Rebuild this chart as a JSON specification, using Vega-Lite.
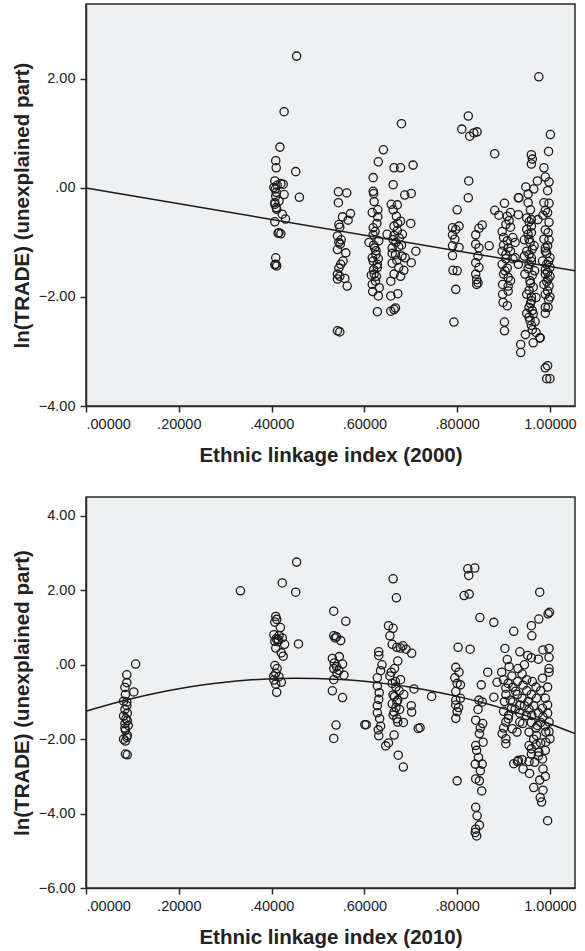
{
"$schema": "https://vega.github.io/schema/vega-lite/v6.json",
"padding": {"left": 11, "top": 3, "right": 5, "bottom": 5},
"spacing": 29,
"background": "white",
"config": {
 "font": "Liberation Sans",
 "view": {"fill": "#eff0f2", "stroke": "#2a2a2a", "strokeWidth": 1.5},
 "axis": {"grid": false, "domainColor": "#2a2a2a", "domainWidth": 1.5, "tickColor": "#2a2a2a", "tickWidth": 1.5, "tickSize": 6, "labelFont": "Liberation Sans", "labelFontSize": 14.5, "labelColor": "#222", "labelPadding": 5, "titleFont": "Liberation Sans", "titleFontSize": 20.5, "titleFontWeight": "bold", "titleColor": "#222"}
},
"datasets": {
"a": [
{"x":0.409,"y":0.50},{"x":0.41,"y":0.37},{"x":0.418,"y":0.75},{"x":0.427,"y":1.40},{"x":0.407,"y":0.13},{"x":0.42,"y":0.08},{"x":0.425,"y":0.07},{"x":0.405,"y":0.01},{"x":0.41,"y":-0.08},{"x":0.427,"y":-0.12},{"x":0.407,"y":-0.27},{"x":0.416,"y":-0.24},{"x":0.411,"y":-0.39},{"x":0.423,"y":-0.48},{"x":0.43,"y":-0.57},{"x":0.407,"y":-0.62},{"x":0.416,"y":-0.82},{"x":0.42,"y":-0.84},{"x":0.414,"y":-0.83},{"x":0.409,"y":-1.28},{"x":0.409,"y":-1.40},{"x":0.411,"y":-1.43},{"x":0.407,"y":-1.41},{"x":0.409,"y":-0.15},{"x":0.41,"y":-0.36},{"x":0.407,"y":-0.30},{"x":0.412,"y":0.05},{"x":0.408,"y":-0.02},
{"x":0.454,"y":2.42},{"x":0.452,"y":0.30},{"x":0.46,"y":-0.17},
{"x":0.544,"y":-0.07},{"x":0.562,"y":-0.09},{"x":0.544,"y":-0.27},{"x":0.57,"y":-0.47},{"x":0.553,"y":-0.53},{"x":0.565,"y":-0.59},{"x":0.545,"y":-0.67},{"x":0.542,"y":-0.88},{"x":0.545,"y":-1.0},{"x":0.548,"y":-1.03},{"x":0.542,"y":-1.13},{"x":0.56,"y":-1.19},{"x":0.554,"y":-1.34},{"x":0.549,"y":-1.4},{"x":0.545,"y":-1.47},{"x":0.542,"y":-1.58},{"x":0.547,"y":-1.62},{"x":0.542,"y":-1.67},{"x":0.558,"y":-1.66},{"x":0.563,"y":-1.8},{"x":0.542,"y":-2.62},{"x":0.547,"y":-2.64},{"x":0.547,"y":-0.72},{"x":0.55,"y":-0.95},
{"x":0.619,"y":0.19},{"x":0.63,"y":0.48},{"x":0.641,"y":0.70},{"x":0.619,"y":-0.06},{"x":0.62,"y":-0.10},{"x":0.621,"y":-0.25},{"x":0.629,"y":-0.40},{"x":0.617,"y":-0.45},{"x":0.629,"y":-0.53},{"x":0.619,"y":-0.73},{"x":0.61,"y":-1.0},{"x":0.619,"y":-0.86},{"x":0.631,"y":-0.97},{"x":0.622,"y":-1.10},{"x":0.625,"y":-1.22},{"x":0.619,"y":-1.34},{"x":0.628,"y":-1.46},{"x":0.621,"y":-1.58},{"x":0.624,"y":-1.71},{"x":0.617,"y":-1.77},{"x":0.632,"y":-1.83},{"x":0.63,"y":-1.98},{"x":0.628,"y":-2.27},{"x":0.62,"y":-1.05},{"x":0.625,"y":-1.15},{"x":0.617,"y":-1.28},{"x":0.628,"y":-1.40},{"x":0.62,"y":-1.50},{"x":0.626,"y":-1.62},{"x":0.618,"y":-1.90},{"x":0.63,"y":-1.30},{"x":0.623,"y":-0.80},{"x":0.627,"y":-0.65},{"x":0.615,"y":-1.60},
{"x":0.664,"y":0.37},{"x":0.678,"y":0.37},{"x":0.68,"y":1.18},{"x":0.662,"y":0.06},{"x":0.705,"y":0.42},{"x":0.701,"y":-0.10},{"x":0.687,"y":-0.13},{"x":0.658,"y":-0.30},{"x":0.671,"y":-0.31},{"x":0.662,"y":-0.40},{"x":0.669,"y":-0.52},{"x":0.678,"y":-0.61},{"x":0.70,"y":-0.65},{"x":0.649,"y":-0.85},{"x":0.664,"y":-0.87},{"x":0.671,"y":-0.78},{"x":0.682,"y":-0.85},{"x":0.66,"y":-1.10},{"x":0.674,"y":-1.08},{"x":0.667,"y":-1.22},{"x":0.681,"y":-1.25},{"x":0.688,"y":-1.28},{"x":0.711,"y":-1.16},{"x":0.701,"y":-1.37},{"x":0.66,"y":-1.38},{"x":0.674,"y":-1.46},{"x":0.685,"y":-1.51},{"x":0.664,"y":-1.58},{"x":0.678,"y":-1.62},{"x":0.657,"y":-1.71},{"x":0.672,"y":-1.94},{"x":0.657,"y":-1.98},{"x":0.664,"y":-2.23},{"x":0.657,"y":-2.26},{"x":0.667,"y":-2.20},{"x":0.662,"y":-0.95},{"x":0.668,"y":-1.00},{"x":0.675,"y":-0.92},{"x":0.66,"y":-1.20},{"x":0.67,"y":-1.33},{"x":0.664,"y":-0.70},{"x":0.672,"y":-0.65},{"x":0.68,"y":-1.05},
{"x":0.80,"y":-0.40},{"x":0.79,"y":-0.73},{"x":0.797,"y":-0.76},{"x":0.804,"y":-0.70},{"x":0.79,"y":-0.86},{"x":0.795,"y":-0.94},{"x":0.804,"y":-1.09},{"x":0.79,"y":-1.06},{"x":0.79,"y":-1.24},{"x":0.791,"y":-1.51},{"x":0.80,"y":-1.52},{"x":0.797,"y":-1.86},{"x":0.793,"y":-2.46},
{"x":0.824,"y":1.32},{"x":0.81,"y":1.08},{"x":0.827,"y":0.95},{"x":0.836,"y":1.01},{"x":0.843,"y":1.03},{"x":0.825,"y":0.13},{"x":0.824,"y":-0.18},{"x":0.854,"y":-0.68},{"x":0.847,"y":-0.74},{"x":0.84,"y":-0.86},{"x":0.84,"y":-1.03},{"x":0.847,"y":-1.10},{"x":0.845,"y":-1.25},{"x":0.84,"y":-1.37},{"x":0.847,"y":-1.46},{"x":0.84,"y":-1.58},{"x":0.842,"y":-1.68},{"x":0.842,"y":-1.77},{"x":0.845,"y":-1.74},{"x":0.869,"y":-1.06},{"x":0.881,"y":0.63},{"x":0.881,"y":-0.41},
{"x":0.902,"y":-0.28},{"x":0.89,"y":-0.50},{"x":0.908,"y":-0.52},{"x":0.932,"y":-0.18},{"x":0.932,"y":-0.49},{"x":0.905,"y":-0.67},{"x":0.915,"y":-0.72},{"x":0.90,"y":-0.91},{"x":0.908,"y":-0.97},{"x":0.92,"y":-0.91},{"x":0.897,"y":-1.16},{"x":0.905,"y":-1.22},{"x":0.915,"y":-1.16},{"x":0.925,"y":-1.28},{"x":0.897,"y":-1.40},{"x":0.908,"y":-1.47},{"x":0.90,"y":-1.58},{"x":0.91,"y":-1.64},{"x":0.898,"y":-1.77},{"x":0.91,"y":-1.89},{"x":0.899,"y":-2.10},{"x":0.908,"y":-2.16},{"x":0.902,"y":-2.46},{"x":0.902,"y":-2.62},{"x":0.915,"y":-1.70},{"x":0.932,"y":-1.40},{"x":0.90,"y":-1.05},{"x":0.905,"y":-1.30},{"x":0.91,"y":-1.10},{"x":0.897,"y":-0.80},{"x":0.912,"y":-0.60},{"x":0.903,"y":-1.52},{"x":0.91,"y":-1.80},{"x":0.898,"y":-1.95},{"x":0.92,"y":-1.30},{"x":0.925,"y":-1.0},{"x":0.915,"y":-0.45},
{"x":0.96,"y":0.61},{"x":0.962,"y":0.53},{"x":0.96,"y":0.44},{"x":0.948,"y":0.02},{"x":0.965,"y":-0.02},{"x":0.973,"y":0.13},{"x":0.953,"y":-0.11},{"x":0.953,"y":-0.27},{"x":0.958,"y":-0.40},{"x":0.95,"y":-0.55},{"x":0.96,"y":-0.58},{"x":0.974,"y":-0.58},{"x":0.95,"y":-0.76},{"x":0.96,"y":-0.82},{"x":0.955,"y":-0.94},{"x":0.966,"y":-1.06},{"x":0.95,"y":-1.16},{"x":0.96,"y":-1.28},{"x":0.955,"y":-1.40},{"x":0.967,"y":-1.52},{"x":0.946,"y":-1.58},{"x":0.957,"y":-1.70},{"x":0.964,"y":-1.82},{"x":0.95,"y":-1.95},{"x":0.96,"y":-2.07},{"x":0.97,"y":-2.01},{"x":0.955,"y":-2.19},{"x":0.964,"y":-2.31},{"x":0.957,"y":-2.43},{"x":0.96,"y":-2.52},{"x":0.97,"y":-2.65},{"x":0.964,"y":-2.84},{"x":0.937,"y":-2.87},{"x":0.937,"y":-3.02},{"x":0.947,"y":-2.69},{"x":0.933,"y":-0.18},{"x":0.976,"y":2.04},{"x":0.978,"y":-2.75},{"x":0.955,"y":-0.62},{"x":0.96,"y":-0.70},{"x":0.953,"y":-0.85},{"x":0.957,"y":-1.0},{"x":0.962,"y":-1.12},{"x":0.955,"y":-1.22},{"x":0.96,"y":-1.35},{"x":0.953,"y":-1.48},{"x":0.962,"y":-1.60},{"x":0.958,"y":-1.75},{"x":0.955,"y":-1.88},{"x":0.96,"y":-2.0},{"x":0.958,"y":-2.12},{"x":0.962,"y":-2.25},{"x":0.955,"y":-2.37},{"x":0.962,"y":-2.6},{"x":0.968,"y":-2.45},{"x":0.945,"y":-1.25},{"x":0.945,"y":-0.95},{"x":0.95,"y":-2.3},
{"x":1.001,"y":0.98},{"x":0.997,"y":0.67},{"x":0.987,"y":0.37},{"x":0.99,"y":0.20},{"x":0.998,"y":0.11},{"x":0.995,"y":-0.05},{"x":0.987,"y":-0.27},{"x":0.998,"y":-0.28},{"x":0.99,"y":-0.41},{"x":0.998,"y":-0.63},{"x":0.99,"y":-0.77},{"x":0.996,"y":-0.82},{"x":0.987,"y":-0.94},{"x":0.995,"y":-1.06},{"x":0.99,"y":-1.16},{"x":1.0,"y":-1.28},{"x":0.984,"y":-1.34},{"x":0.993,"y":-1.40},{"x":1.0,"y":-1.46},{"x":0.99,"y":-1.58},{"x":0.996,"y":-1.67},{"x":0.987,"y":-1.77},{"x":0.995,"y":-1.89},{"x":1.0,"y":-2.00},{"x":0.99,"y":-2.19},{"x":0.996,"y":-2.19},{"x":0.979,"y":-2.75},{"x":0.99,"y":-3.30},{"x":0.995,"y":-3.26},{"x":0.993,"y":-3.50},{"x":1.0,"y":-3.50},{"x":0.993,"y":-1.2},{"x":0.997,"y":-1.35},{"x":0.99,"y":-1.5},{"x":0.995,"y":-1.55},{"x":1.0,"y":-1.62},{"x":0.993,"y":-1.72},{"x":0.998,"y":-1.80},{"x":0.99,"y":-1.95},{"x":0.997,"y":-2.05},{"x":0.99,"y":-1.1},{"x":0.998,"y":-0.95},{"x":0.985,"y":-0.5},{"x":0.995,"y":-0.45},{"x":0.99,"y":-2.3}
],
"b": [
{"x":0.107,"y":0.02},{"x":0.088,"y":-0.27},{"x":0.088,"y":-0.48},{"x":0.084,"y":-0.61},{"x":0.103,"y":-0.73},{"x":0.085,"y":-0.80},{"x":0.081,"y":-0.98},{"x":0.088,"y":-1.0},{"x":0.084,"y":-1.2},{"x":0.089,"y":-1.3},{"x":0.081,"y":-1.38},{"x":0.089,"y":-1.50},{"x":0.084,"y":-1.58},{"x":0.091,"y":-1.63},{"x":0.085,"y":-1.76},{"x":0.089,"y":-1.90},{"x":0.081,"y":-2.0},{"x":0.088,"y":-1.95},{"x":0.085,"y":-2.4},{"x":0.089,"y":-2.42},{"x":0.086,"y":-1.45},{"x":0.084,"y":-1.7},{"x":0.088,"y":-1.1},{"x":0.085,"y":-2.05},
{"x":0.333,"y":1.99},
{"x":0.409,"y":1.30},{"x":0.411,"y":1.22},{"x":0.407,"y":1.15},{"x":0.419,"y":1.0},{"x":0.405,"y":0.81},{"x":0.416,"y":0.78},{"x":0.423,"y":0.72},{"x":0.407,"y":0.63},{"x":0.414,"y":0.62},{"x":0.428,"y":0.55},{"x":0.409,"y":0.45},{"x":0.421,"y":0.32},{"x":0.425,"y":0.23},{"x":0.407,"y":-0.02},{"x":0.409,"y":-0.23},{"x":0.416,"y":-0.32},{"x":0.405,"y":-0.41},{"x":0.421,"y":-0.47},{"x":0.409,"y":-0.52},{"x":0.411,"y":-0.74},{"x":0.41,"y":0.7},{"x":0.414,"y":0.68},{"x":0.405,"y":-0.3},{"x":0.412,"y":-0.1},
{"x":0.423,"y":2.20},{"x":0.454,"y":2.76},{"x":0.452,"y":1.95},{"x":0.458,"y":0.56},
{"x":0.534,"y":1.44},{"x":0.56,"y":1.17},{"x":0.534,"y":0.78},{"x":0.54,"y":0.75},{"x":0.549,"y":0.65},{"x":0.531,"y":0.17},{"x":0.546,"y":0.22},{"x":0.553,"y":0.02},{"x":0.534,"y":-0.1},{"x":0.541,"y":-0.23},{"x":0.556,"y":-0.28},{"x":0.534,"y":-0.4},{"x":0.531,"y":-0.7},{"x":0.553,"y":-0.88},{"x":0.539,"y":-1.62},{"x":0.534,"y":-1.98},{"x":0.601,"y":-1.61},{"x":0.537,"y":0.72},{"x":0.54,"y":-0.05},{"x":0.535,"y":0.05},{"x":0.545,"y":-0.15},
{"x":0.662,"y":2.31},{"x":0.669,"y":1.80},{"x":0.631,"y":0.35},{"x":0.652,"y":1.05},{"x":0.662,"y":0.98},{"x":0.655,"y":0.78},{"x":0.631,"y":0.25},{"x":0.635,"y":-0.16},{"x":0.628,"y":-0.57},{"x":0.631,"y":-0.93},{"x":0.628,"y":-1.29},{"x":0.635,"y":-1.65},{"x":0.631,"y":-1.91},{"x":0.646,"y":-2.18},{"x":0.652,"y":-2.1},{"x":0.673,"y":-2.43},{"x":0.684,"y":-2.75},{"x":0.664,"y":-1.89},{"x":0.667,"y":-0.45},{"x":0.662,"y":-0.81},{"x":0.67,"y":-1.0},{"x":0.664,"y":-1.27},{"x":0.672,"y":-1.54},{"x":0.684,"y":-1.55},{"x":0.683,"y":0.51},{"x":0.67,"y":0.47},{"x":0.702,"y":0.31},{"x":0.707,"y":-0.65},{"x":0.701,"y":-1.1},{"x":0.702,"y":-1.27},{"x":0.716,"y":-1.71},{"x":0.72,"y":-1.69},{"x":0.745,"y":-0.85},{"x":0.604,"y":-1.61},
{"x":0.655,"y":-0.3},{"x":0.66,"y":-0.5},{"x":0.668,"y":-0.6},{"x":0.675,"y":-0.7},{"x":0.665,"y":-0.85},{"x":0.672,"y":-0.95},{"x":0.66,"y":-1.05},{"x":0.668,"y":-1.15},{"x":0.676,"y":-1.2},{"x":0.662,"y":-1.35},{"x":0.67,"y":-1.45},{"x":0.678,"y":-0.4},{"x":0.685,"y":-0.8},{"x":0.658,"y":-0.2},{"x":0.665,"y":-0.1},{"x":0.672,"y":0.1},{"x":0.678,"y":0.45},{"x":0.69,"y":0.42},{"x":0.66,"y":0.55},{"x":0.628,"y":-0.35},{"x":0.632,"y":-0.75},{"x":0.628,"y":-1.1},{"x":0.633,"y":-1.45},{"x":0.63,"y":-1.75},{"x":0.638,"y":0.0},
{"x":0.802,"y":0.47},{"x":0.828,"y":0.42},{"x":0.797,"y":-0.07},{"x":0.804,"y":-0.2},{"x":0.795,"y":-0.35},{"x":0.807,"y":-0.54},{"x":0.797,"y":-0.72},{"x":0.807,"y":-0.9},{"x":0.797,"y":-1.08},{"x":0.8,"y":-1.26},{"x":0.797,"y":-1.44},{"x":0.80,"y":-3.12},{"x":0.80,"y":-0.5},{"x":0.797,"y":-0.95},{"x":0.803,"y":-1.15},
{"x":0.823,"y":2.58},{"x":0.838,"y":2.60},{"x":0.825,"y":2.40},{"x":0.815,"y":1.86},{"x":0.826,"y":1.90},{"x":0.849,"y":1.27},{"x":0.879,"y":1.14},{"x":0.866,"y":-0.20},{"x":0.852,"y":-0.54},{"x":0.847,"y":-0.95},{"x":0.854,"y":-1.0},{"x":0.84,"y":-1.49},{"x":0.855,"y":-1.58},{"x":0.848,"y":-1.85},{"x":0.856,"y":-2.08},{"x":0.84,"y":-2.17},{"x":0.846,"y":-2.49},{"x":0.839,"y":-2.67},{"x":0.854,"y":-2.67},{"x":0.84,"y":-3.07},{"x":0.848,"y":-3.12},{"x":0.853,"y":-3.39},{"x":0.84,"y":-3.83},{"x":0.843,"y":-4.06},{"x":0.848,"y":-4.31},{"x":0.84,"y":-4.42},{"x":0.839,"y":-4.51},{"x":0.842,"y":-4.60},{"x":0.879,"y":-0.87},{"x":0.886,"y":-0.47},{"x":0.845,"y":-1.2},{"x":0.85,"y":-1.7},{"x":0.842,"y":-2.3},{"x":0.85,"y":-2.85},
{"x":0.903,"y":0.44},{"x":0.922,"y":0.90},{"x":0.96,"y":1.05},{"x":0.961,"y":0.78},{"x":0.976,"y":1.23},{"x":0.978,"y":1.95},{"x":0.996,"y":1.37},{"x":0.999,"y":1.41},{"x":0.952,"y":0.25},{"x":0.96,"y":0.19},{"x":0.998,"y":0.44},{"x":0.908,"y":0.14},{"x":0.896,"y":-0.20},{"x":0.918,"y":-0.30},{"x":0.931,"y":-0.10},{"x":0.905,"y":-0.63},{"x":0.926,"y":-0.71},{"x":0.942,"y":-0.55},{"x":0.962,"y":-0.45},{"x":0.984,"y":-0.36},{"x":0.998,"y":0.2},{"x":0.998,"y":-0.2},{"x":0.902,"y":-0.99},{"x":0.917,"y":-1.17},{"x":0.935,"y":-1.08},{"x":0.953,"y":-0.99},{"x":0.971,"y":-0.9},{"x":0.984,"y":-1.17},{"x":0.995,"y":-1.08},{"x":0.905,"y":-1.54},{"x":0.919,"y":-1.72},{"x":0.941,"y":-1.58},{"x":0.955,"y":-1.81},{"x":0.973,"y":-1.63},{"x":0.991,"y":-1.81},{"x":1.0,"y":-1.99},{"x":0.905,"y":-1.99},{"x":0.905,"y":-2.12},{"x":0.922,"y":-2.66},{"x":0.932,"y":-2.57},{"x":0.942,"y":-2.8},{"x":0.956,"y":-2.92},{"x":0.967,"y":-2.62},{"x":0.96,"y":-2.26},{"x":0.976,"y":-2.35},{"x":0.984,"y":-2.53},{"x":0.965,"y":-3.30},{"x":0.985,"y":-3.37},{"x":0.979,"y":-3.57},{"x":0.982,"y":-3.69},{"x":0.995,"y":-4.19},{"x":0.955,"y":-2.17},{"x":0.971,"y":-1.90},{"x":0.991,"y":-2.08},{"x":0.998,"y":-1.54},{"x":0.949,"y":-1.36},{"x":0.961,"y":-1.36},{"x":0.911,"y":-1.36},{"x":0.929,"y":-1.81},{"x":0.935,"y":-1.54},
{"x":0.90,"y":-0.4},{"x":0.91,"y":-0.5},{"x":0.92,"y":-0.6},{"x":0.93,"y":-0.8},{"x":0.94,"y":-0.9},{"x":0.95,"y":-0.7},{"x":0.96,"y":-0.8},{"x":0.97,"y":-0.6},{"x":0.98,"y":-0.7},{"x":0.99,"y":-0.9},{"x":0.905,"y":-0.8},{"x":0.915,"y":-0.95},{"x":0.925,"y":-1.2},{"x":0.935,"y":-1.3},{"x":0.945,"y":-1.1},{"x":0.955,"y":-1.2},{"x":0.965,"y":-1.1},{"x":0.975,"y":-1.3},{"x":0.985,"y":-1.4},{"x":0.995,"y":-1.3},{"x":0.9,"y":-1.25},{"x":0.91,"y":-1.45},{"x":0.92,"y":-1.0},{"x":0.93,"y":-0.45},{"x":0.94,"y":-0.25},{"x":0.95,"y":-0.4},{"x":0.96,"y":-1.55},{"x":0.97,"y":-1.7},{"x":0.98,"y":-1.55},{"x":0.99,"y":-1.65},{"x":0.965,"y":-2.0},{"x":0.97,"y":-2.15},{"x":0.975,"y":-2.45},{"x":0.96,"y":-2.4},{"x":0.955,"y":-2.6},{"x":0.98,"y":-2.1},{"x":0.99,"y":-2.3},{"x":0.998,"y":-1.8},{"x":0.995,"y":-0.6},{"x":0.998,"y":-0.1},{"x":0.9,"y":-1.7},{"x":0.897,"y":-1.85},{"x":0.912,"y":-0.05},{"x":0.935,"y":0.35},{"x":0.945,"y":0.0},{"x":0.975,"y":0.15},{"x":0.985,"y":0.4},{"x":0.94,"y":-2.55},{"x":0.93,"y":-2.6},{"x":0.985,"y":-2.8},{"x":0.99,"y":-3.0},{"x":0.978,"y":-3.1}
],
"fa": [{"x":0,"y":0},{"x":1.054,"y":-1.52}],
"fb": [{"x":0,"y":-1.25},{"x":0.05,"y":-1.067},{"x":0.1,"y":-0.905},{"x":0.15,"y":-0.764},{"x":0.2,"y":-0.644},{"x":0.25,"y":-0.545},{"x":0.3,"y":-0.467},{"x":0.35,"y":-0.411},{"x":0.4,"y":-0.375},{"x":0.45,"y":-0.36},{"x":0.5,"y":-0.367},{"x":0.55,"y":-0.395},{"x":0.6,"y":-0.443},{"x":0.65,"y":-0.513},{"x":0.7,"y":-0.604},{"x":0.75,"y":-0.716},{"x":0.8,"y":-0.849},{"x":0.85,"y":-1.003},{"x":0.9,"y":-1.178},{"x":0.95,"y":-1.374},{"x":1.0,"y":-1.592},{"x":1.054,"y":-1.85}]
},
"vconcat": [
{
 "width": 489, "height": 402,
 "encoding": {
  "x": {"field": "x", "type": "quantitative", "scale": {"domain": [0, 1.054], "nice": false, "zero": false}, "axis": {"values": [0, 0.2, 0.4, 0.6, 0.8, 1.0], "labelExpr": "datum.value < 0.999 ? substring(format(datum.value, '.5f'), 1) : format(datum.value, '.5f')", "title": "Ethnic linkage index (2000)", "titlePadding": 15}},
  "y": {"field": "y", "type": "quantitative", "scale": {"domain": [-4, 3.376], "nice": false, "zero": false}, "axis": {"values": [-4, -2, 0, 2], "labelExpr": "datum.value == 0 ? '.00' : format(datum.value, '.2f')", "title": "ln(TRADE) (unexplained part)", "titlePadding": 6}}
 },
 "layer": [
  {"data": {"name": "a"}, "mark": {"type": "point", "shape": "circle", "filled": false, "stroke": "#1a1a1a", "strokeWidth": 1.3, "size": 68, "opacity": 1}},
  {"data": {"name": "fa"}, "mark": {"type": "line", "color": "#1a1a1a", "strokeWidth": 1.5}}
 ]
},
{
 "width": 489, "height": 391,
 "encoding": {
  "x": {"field": "x", "type": "quantitative", "scale": {"domain": [0, 1.054], "nice": false, "zero": false}, "axis": {"values": [0, 0.2, 0.4, 0.6, 0.8, 1.0], "labelExpr": "datum.value < 0.999 ? substring(format(datum.value, '.5f'), 1) : format(datum.value, '.5f')", "title": "Ethnic linkage index (2010)", "titlePadding": 15}},
  "y": {"field": "y", "type": "quantitative", "scale": {"domain": [-6, 4.51], "nice": false, "zero": false}, "axis": {"values": [-6, -4, -2, 0, 2, 4], "labelExpr": "datum.value == 0 ? '.00' : format(datum.value, '.2f')", "title": "ln(TRADE) (unexplained part)", "titlePadding": 6}}
 },
 "layer": [
  {"data": {"name": "b"}, "mark": {"type": "point", "shape": "circle", "filled": false, "stroke": "#1a1a1a", "strokeWidth": 1.3, "size": 68, "opacity": 1}},
  {"data": {"name": "fb"}, "mark": {"type": "line", "color": "#1a1a1a", "strokeWidth": 1.5, "interpolate": "monotone"}}
 ]
}
]
}
